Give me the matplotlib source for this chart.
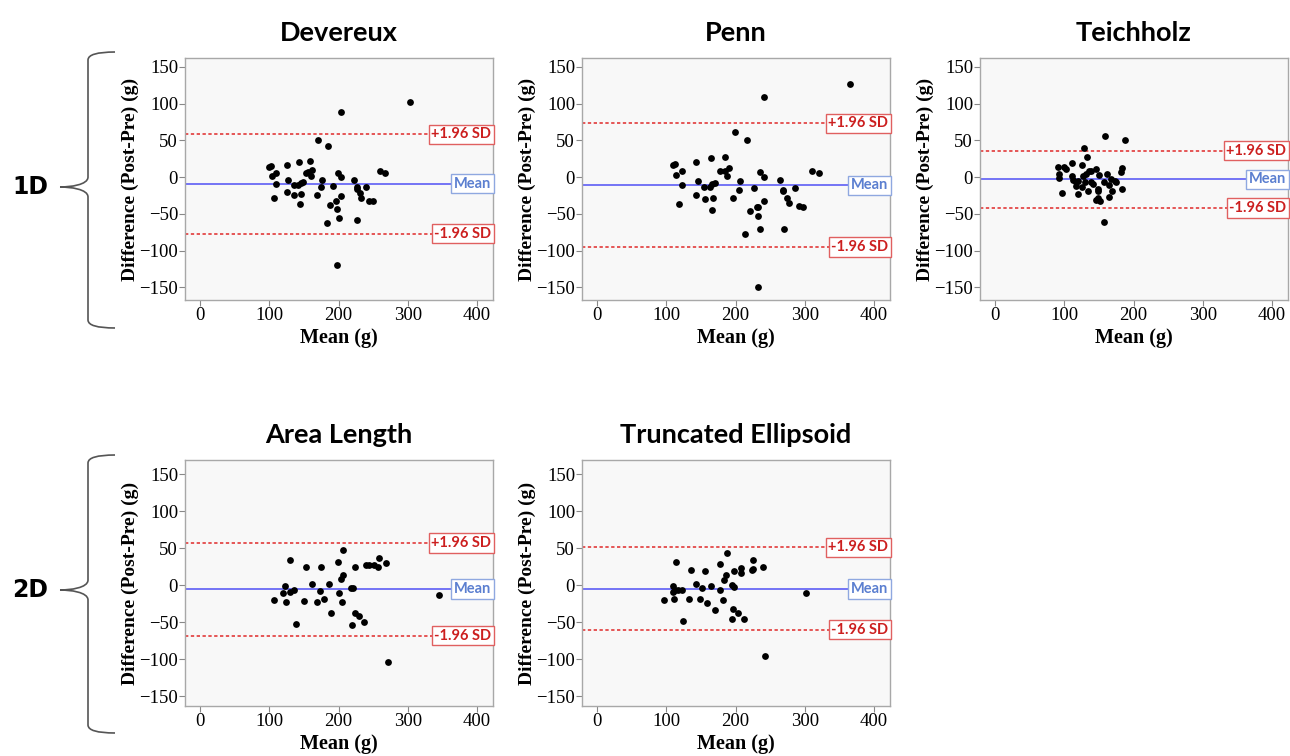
import matplotlib
matplotlib.use("Agg")
import matplotlib.pyplot as plt
from matplotlib.path import Path
from matplotlib.patches import PathPatch
from matplotlib.transforms import blended_transform_factory

# ---------------- data ----------------
titles = ["Devereux", "Penn", "Teichholz", "Area Length", "Truncated Ellipsoid"]

dev_x = [303, 204, 170, 184, 99, 102, 125, 142, 159, 103, 110, 153, 156, 162, 160, 127, 110, 135, 141, 145,
         148, 176, 175, 192, 199, 204, 222, 226, 227, 231, 233, 240, 260, 267, 244, 249, 106, 125, 135, 145,
         144, 169, 187, 196, 197, 204, 200, 183, 227, 197]
dev_y = [102, 88, 50, 42, 14, 15, 17, 20, 22, 2, 6, 6, 7, 10, 2, -4, -9, -11, -10, -8,
         -7, -4, -14, -12, 6, 0, -4, -14, -16, -22, -28, -13, 8, 5, -32, -32, -29, -20, -24, -23,
         -36, -24, -38, -33, -43, -26, -56, -62, -58, -120]

penn_x = [365, 241, 199, 216, 110, 113, 142, 164, 185, 190, 184, 177, 187, 114, 123, 235, 241, 311, 320, 145,
          123, 154, 163, 166, 170, 206, 205, 226, 264, 268, 269, 286, 274, 277, 292, 297, 118, 142, 155, 167,
          166, 196, 241, 221, 231, 232, 232, 235, 214, 270, 232]
penn_y = [127, 109, 62, 51, 17, 18, 21, 26, 27, 13, 9, 8, 2, 3, 8, 7, 0, 9, 6, -5,
          -11, -14, -13, -9, -8, -5, -17, -15, -4, -18, -19, -15, -28, -35, -39, -40, -36, -24, -30, -29,
          -45, -29, -32, -46, -41, -40, -53, -70, -77, -71, -149]

tei_x = [158, 187, 128, 133, 91, 99, 102, 111, 125, 146, 136, 138, 131, 127, 92, 92, 111, 113, 116, 119,
         129, 139, 150, 161, 167, 157, 165, 173, 175, 181, 183, 117, 126, 134, 119, 97, 149, 148, 168, 183,
         164, 146, 152, 149, 157, 141]
tei_y = [56, 51, 39, 28, 14, 14, 11, 19, 17, 11, 8, 9, 4, 2, 4, -1, 1, -4, -6, -5,
         -7, -7, 3, 4, -2, -7, -10, -5, -6, 7, 12, -12, -14, -19, -23, -22, -16, -19, -19, -16,
         -27, -31, -32, -29, -61, -9]

al_x = [206, 130, 199, 259, 268, 240, 244, 251, 257, 153, 174, 223, 206, 204, 162, 186, 123, 120, 130, 135,
        173, 201, 218, 221, 345, 107, 124, 150, 168, 179, 205, 189, 224, 230, 237, 138, 220, 271]
al_y = [48, 34, 31, 37, 30, 27, 27, 27, 25, 24, 25, 24, 14, 9, 2, 1, -1, -11, -9, -6,
        -8, -11, -4, -4, -13, -20, -22, -21, -22, -19, -23, -37, -37, -41, -50, -53, -54, -104]

te_x = [187, 114, 178, 225, 239, 223, 225, 208, 208, 197, 136, 155, 186, 183, 143, 164, 152, 110, 109, 113,
        117, 122, 178, 195, 197, 302, 97, 111, 133, 149, 158, 182, 170, 196, 203, 194, 212, 124, 243]
te_y = [43, 31, 29, 34, 24, 20, 22, 23, 17, 19, 20, 19, 14, 7, 2, -1, -4, -1, -9, -7,
        -6, -6, -7, 0, -3, -11, -20, -19, -18, -19, -24, -20, -34, -32, -37, -46, -45, -48, -96]

xs = [dev_x, penn_x, tei_x, al_x, te_x]
ys = [dev_y, penn_y, tei_y, al_y, te_y]
mean_vals = [-9, -11, -3, -5, -5]
upper_vals = [58, 73, 36, 57, 51]
lower_vals = [-77, -95, -42, -68, -60]
x_ticks = [0, 100, 200, 300, 400]
y_ticks = [-150, -100, -50, 0, 50, 100, 150]
row_labels = ["1D", "2D"]

# ---------------- figure ----------------
W, H = 1290, 756
fig = plt.figure(figsize=(12.9, 7.56), dpi=100)

serif = ["Liberation Serif", "DejaVu Serif"]
sans = ["Lato", "Open Sans", "DejaVu Sans"]

# pixel boxes for axes: (left, top, right, bottom)
boxes = [(185, 58, 493, 300), (582, 58, 890, 300), (980, 58, 1288, 300),
         (185, 460, 493, 706), (582, 460, 890, 706)]
ylims = [(-167, 162)] * 3 + [(-163, 169)] * 2

red_line = "#e23a3a"
red_txt = "#cc1f1f"
blue_line = "#6a6af5"
blue_txt = "#5b7fd0"

for i in range(5):
    l, t, r, b = boxes[i]
    ax = fig.add_axes([l / W, 1 - b / H, (r - l) / W, (b - t) / H])
    ax.set_facecolor("#f8f8f8")
    for s in ax.spines.values():
        s.set_color("#a8a8a8")
        s.set_linewidth(1.0)
    ax.set_xlim(-22, 423)
    ax.set_ylim(*ylims[i])
    ax.set_xticks(x_ticks)
    ax.set_yticks(y_ticks)
    ax.tick_params(axis="both", direction="out", length=4, width=0.8, color="#888888",
                   labelsize=13.5, pad=1)
    for lab in ax.get_xticklabels() + ax.get_yticklabels():
        lab.set_fontfamily(serif)
    ax.set_xlabel("Mean (g)", fontfamily=serif, fontweight="bold", fontsize=14.5, labelpad=3)
    ax.set_ylabel("Difference (Post-Pre) (g)", fontfamily=serif, fontweight="bold",
                  fontsize=14, labelpad=0)
    ax.set_title(titles[i], fontfamily=sans, fontweight="bold", fontsize=19.5, pad=12)

    trans = blended_transform_factory(ax.transAxes, ax.transData)
    ax.axhline(mean_vals[i], color=blue_line, lw=1.3, zorder=2)
    ax.axhline(upper_vals[i], color=red_line, lw=1.2, ls=(0, (2, 1.5)), zorder=2)
    ax.axhline(lower_vals[i], color=red_line, lw=1.2, ls=(0, (2, 1.5)), zorder=2)

    ax.scatter(xs[i], ys[i], s=24, color="black", zorder=3, linewidths=0)

    for val, lab, col, ec in [(upper_vals[i], "+1.96 SD", red_txt, "#e06060"),
                              (lower_vals[i], "-1.96 SD", red_txt, "#e06060"),
                              (mean_vals[i], "Mean", blue_txt, "#8fa8e0")]:
        ax.text(0.994, val, lab, transform=trans, ha="right", va="center",
                fontsize=10.5, fontweight="bold", color=col, fontfamily=sans, zorder=5,
                clip_on=False,
                bbox=dict(boxstyle="square,pad=0.18", fc="white", ec=ec, lw=1))

# overlay for braces and row labels
ov = fig.add_axes([0, 0, 1, 1], zorder=-1)
ov.set_xlim(0, W)
ov.set_ylim(H, 0)
ov.axis("off")


def brace(top, bottom, tip_y, x_stub=115, x_v=88, x_tip=60):
    verts = [(x_stub, top), (x_v, top), (x_v, top + 8),
             (x_v, tip_y - 10),
             (x_v, tip_y - 2), (x_tip + 10, tip_y), (x_tip, tip_y),
             (x_tip + 10, tip_y), (x_v, tip_y + 2), (x_v, tip_y + 10),
             (x_v, bottom - 8),
             (x_v, bottom), (x_stub, bottom), (x_stub, bottom)]
    codes = [Path.MOVETO, Path.CURVE3, Path.CURVE3,
             Path.LINETO,
             Path.CURVE4, Path.CURVE4, Path.CURVE4,
             Path.CURVE4, Path.CURVE4, Path.CURVE4,
             Path.LINETO,
             Path.CURVE3, Path.CURVE3, Path.LINETO]
    ov.add_patch(PathPatch(Path(verts, codes), fill=False, ec="#555555", lw=1.2))


brace(52, 328, 187)
brace(455, 733, 590)
ov.text(30, 187, row_labels[0], ha="center", va="center", fontsize=17, fontweight="bold",
        fontfamily=["DejaVu Sans"])
ov.text(30, 590, row_labels[1], ha="center", va="center", fontsize=17, fontweight="bold",
        fontfamily=["DejaVu Sans"])

fig.savefig("out.png", dpi=100)
